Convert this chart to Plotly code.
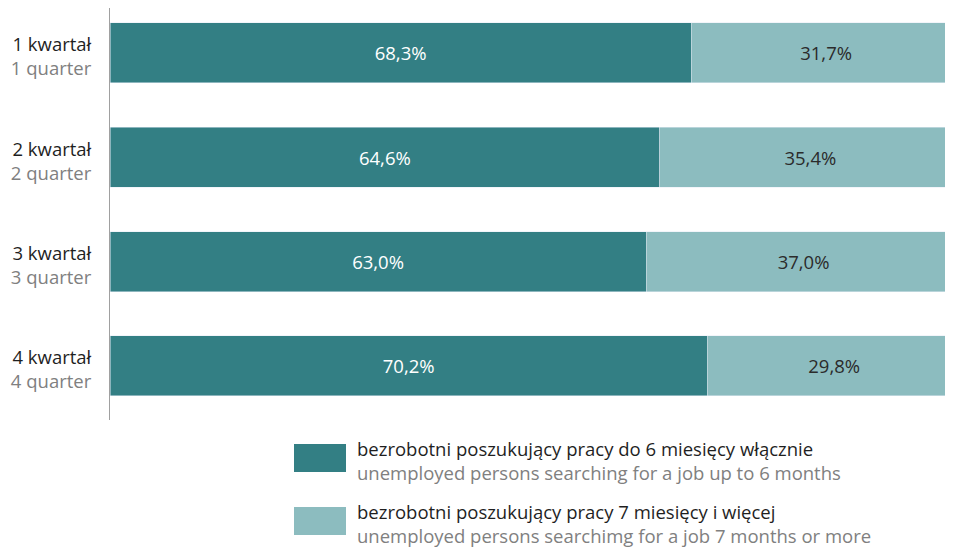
import plotly.graph_objects as go

quarters_pl = ["1 kwartał", "2 kwartał", "3 kwartał", "4 kwartał"]
quarters_en = ["1 quarter", "2 quarter", "3 quarter", "4 quarter"]
short_term = [68.3, 64.6, 63.0, 70.2]
long_term = [31.7, 35.4, 37.0, 29.8]
series_pl = ["bezrobotni poszukujący pracy do 6 miesięcy włącznie",
             "bezrobotni poszukujący pracy 7 miesięcy i więcej"]
series_en = ["unemployed persons searching for a job up to 6 months",
             "unemployed persons searchimg for a job 7 months or more"]

DARK = "#337f84"
LIGHT = "#8cbcbf"
FONT = "Open Sans"
FS = 18.5

ypos = list(range(len(quarters_pl)))
fmt = lambda v: f"{v:.1f}%".replace(".", ",")

fig = go.Figure()
fig.add_trace(go.Bar(
    y=ypos, x=short_term, orientation="h", marker_color=DARK, width=0.575,
    text=[fmt(v) for v in short_term], textposition="inside", insidetextanchor="middle",
    textfont=dict(color="white", size=FS, family=FONT), hoverinfo="skip", showlegend=False))
fig.add_trace(go.Bar(
    y=ypos, x=long_term, orientation="h", marker_color=LIGHT, width=0.575,
    text=[fmt(v) for v in long_term], textposition="inside", insidetextanchor="middle",
    textfont=dict(color="#2b2b2b", size=FS, family=FONT), hoverinfo="skip", showlegend=False))

ticktext = [f"<span style='color:#1f1f1f'>{p}</span><br><span style='color:#808080'>{e}</span>"
            for p, e in zip(quarters_pl, quarters_en)]

# figure sits inside the page's 8px body margin; keep it within the window
FW, FH = 937, 540
L, B = 102, 128
PW, PH = FW - L, FH - B          # 835 x 412
FULL = 851                        # px width that 100 % corresponds to
fig.update_layout(
    width=FW, height=FH, barmode="stack",
    margin=dict(l=L, r=0, t=0, b=B, pad=0),
    paper_bgcolor="white", plot_bgcolor="white",
    font=dict(family=FONT, size=FS, color="#1f1f1f"),
    xaxis=dict(range=[0, 100 * PW / FULL], visible=False, fixedrange=True),
    yaxis=dict(range=[3.518, -0.431], tickvals=ypos, ticktext=ticktext,
               showline=True, linecolor="#a0a0a0", linewidth=1, showgrid=False,
               zeroline=False, ticks="", ticklabelstandoff=14, ticklabelshift=-4,
               tickfont=dict(family=FONT, size=FS)),
)

# legend positions in window pixels (top, bottom of swatch)
legend_y = [(444, 472), (507, 535)]
for i, (y0, y1) in enumerate(legend_y):
    color = DARK if i == 0 else LIGHT
    fig.add_shape(type="rect", xref="paper", yref="paper",
                  x0=(294 - 110) / PW, x1=(346 - 110) / PW,
                  y0=(420 - y1) / PH, y1=(420 - y0) / PH,
                  fillcolor=color, line_width=0)
    fig.add_annotation(xref="paper", yref="paper",
                       x=(355 - 110) / PW, y=(420 - (y0 + y1) / 2 - 2) / PH,
                       xanchor="left", yanchor="middle", align="left", showarrow=False,
                       text=f"<span style='color:#1f1f1f'>{series_pl[i]}</span><br>"
                            f"<span style='color:#808080'>{series_en[i]}</span>",
                       font=dict(family=FONT, size=FS))

fig.write_html("out.html")
